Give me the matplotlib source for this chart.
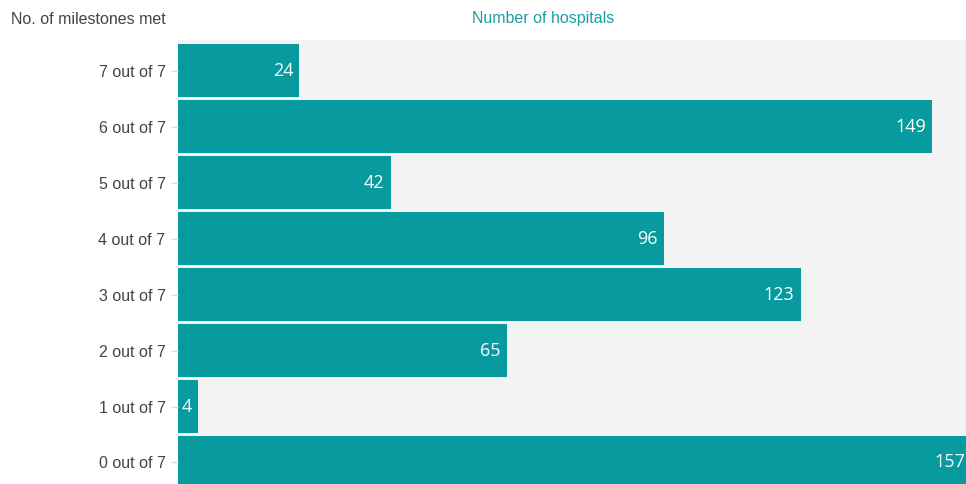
import matplotlib
matplotlib.use("Agg")
import matplotlib.pyplot as plt

# Hospitals by number of milestones met
categories = ["0 out of 7", "1 out of 7", "2 out of 7", "3 out of 7",
              "4 out of 7", "5 out of 7", "6 out of 7", "7 out of 7"]
hospitals = [157, 4, 65, 123, 96, 42, 149, 24]

TEAL = "#079a9e"
W, H = 966, 484
XMAX = 155.7
fig = plt.figure(figsize=(W / 100, H / 100), dpi=100)
fig.patch.set_facecolor("white")

left, top = 178, 40
ax = fig.add_axes([left / W, 0, 1 - left / W, 1 - top / H])
ax.set_facecolor("#f3f3f3")

y = list(range(len(categories)))
ax.barh(y, hospitals, height=0.946, color=TEAL, linewidth=0)
ax.set_xlim(0, XMAX)
ax.set_ylim(-0.384, 7.545)

# value labels sit just inside the bar end; bars running past the
# axis edge get their label pinned against the edge
for yi, v in zip(y, hospitals):
    clipped = v > XMAX
    ax.annotate(str(v), xy=(min(v, XMAX), yi),
                xytext=(-1 if clipped else -6, 0), textcoords="offset pixels",
                ha="right", va="center", color="white",
                fontsize=13, family=["Open Sans", "DejaVu Sans"])

ax.set_yticks(y)
ax.set_yticklabels(categories, family=["Liberation Sans", "DejaVu Sans"],
                   fontsize=11.5, color="#444444")
ax.tick_params(axis="y", length=5, width=1, color="#dddddd", pad=4)
ax.set_xticks([])
for s in ax.spines.values():
    s.set_visible(False)

fig.text(11 / W, 1 - 19 / H, "No. of milestones met", ha="left", va="center",
         fontsize=11.5, color="#444444", family=["Liberation Sans", "DejaVu Sans"])
fig.text(543 / W, 1 - 19 / H, "Number of hospitals", ha="center", va="center",
         fontsize=11.5, color="#1a9ea2", family=["Liberation Sans", "DejaVu Sans"])

fig.savefig("out.png", dpi=100, facecolor="white")
